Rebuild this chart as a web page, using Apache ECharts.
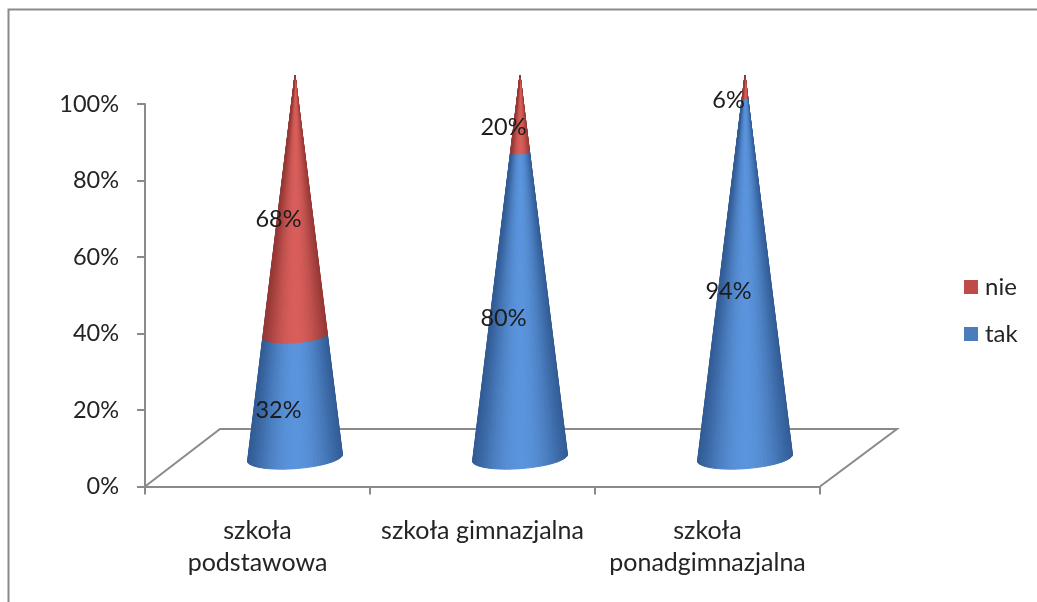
<!DOCTYPE html>
<html><head><meta charset="utf-8">
<style>html,body{margin:0;padding:0;background:#fff}#c{width:1037px;height:602px}</style>
<script src="https://cdn.jsdelivr.net/npm/echarts@6/dist/echarts.min.js"></script>
</head><body><div id="c"></div>
<script>
var categories = ['szkoła\npodstawowa', 'szkoła gimnazjalna', 'szkoła\nponadgimnazjalna'];
var tak = [32, 80, 94];
var nie = [68, 20, 6];
var yTicks = [0, 20, 40, 60, 80, 100];

var FONT = 'Lato, "Open Sans", sans-serif';
var GREY = '#8a8a8a';
var TEXT = '#242424';
var DEPTH = [75, -57.5];
var RADIUS_FRAC = 0.211, MINOR = 0.23, TILT = -0.07;
var LABEL_SHIFT = [21, -15];
var FACETS = 40;

function mix(a, b, k) {
  var c = a.map(function (v, i) { return Math.round(v + (b[i] - v) * k); });
  return 'rgb(' + c.join(',') + ')';
}
function shade(pal, t) {
  // t: 0..PI around the front of the cone
  return mix(pal[0], pal[1], Math.pow(Math.sin(t), 2.6));
}
var BLUE = [[50, 92, 150], [90, 148, 220]];
var RED = [[150, 56, 54], [216, 94, 90]];

function ringPoint(c, r, t) {
  return [c[0] + r * Math.cos(t), c[1] + r * MINOR * Math.sin(t) + TILT * r * Math.cos(t)];
}
function coneSegment(pal) {
  return function (params, api) {
    var i = api.value(0), low = api.value(1), high = api.value(2);
    var R = api.size([1, 0])[0] * RADIUS_FRAC;
    var a = api.coord([i, low]), b = api.coord([i, high]);
    var c0 = [a[0] + DEPTH[0] / 2, a[1] + DEPTH[1] / 2];
    var c1 = [b[0] + DEPTH[0] / 2, b[1] + DEPTH[1] / 2];
    var r0 = R * (1 - low / 100), r1 = R * (1 - high / 100);
    var kids = [];
    for (var n = 0; n < FACETS; n++) {
      var t0 = Math.PI * n / FACETS, t1 = Math.PI * (n + 1) / FACETS;
      var col = shade(pal, (t0 + t1) / 2);
      kids.push({
        type: 'polygon',
        shape: { points: [ringPoint(c0, r0, t0), ringPoint(c0, r0, t1), ringPoint(c1, r1, t1), ringPoint(c1, r1, t0)] },
        style: { fill: col, stroke: col, lineWidth: 1, lineJoin: 'round' }
      });
    }
    var mid = api.coord([i, (low + high) / 2]);
    kids.push({
      type: 'text', z2: 50,
      x: mid[0] + LABEL_SHIFT[0], y: mid[1] + LABEL_SHIFT[1],
      style: { text: (high - low) + '%', fill: '#1c1c1c', font: '23.5px ' + FONT, align: 'center', verticalAlign: 'middle' }
    });
    return { type: 'group', children: kids };
  };
}
function floor(params, api) {
  var s = params.coordSys;
  var l = s.x, r = s.x + s.width, y = s.y + s.height;
  return {
    type: 'polyline',
    shape: { points: [[l, y], [l + DEPTH[0], y + DEPTH[1]], [r + DEPTH[0] + 2, y + DEPTH[1]], [r, y]] },
    style: { fill: null, stroke: GREY, lineWidth: 2 }
  };
}
var takRows = tak.map(function (v, i) { return [i, 0, v]; });
var nieRows = nie.map(function (v, i) { return [i, tak[i], tak[i] + v]; });

var chart = echarts.init(document.getElementById('c'), null, { renderer: 'canvas' });
chart.setOption({
  animation: false,
  backgroundColor: '#fff',
  grid: { left: 145, right: 217, top: 104, bottom: 115.5, containLabel: false },
  graphic: [{
    type: 'polyline', silent: true,
    shape: { points: [[8.5, 602], [8.5, 9.5], [1037, 9.5]] },
    style: { fill: null, stroke: GREY, lineWidth: 2 }
  }],
  legend: {
    orient: 'vertical', left: 964, top: 275, padding: 0, itemWidth: 14, itemHeight: 14, itemGap: 23,
    icon: 'rect', data: ['nie', 'tak'],
    textStyle: { fontFamily: FONT, fontSize: 24, color: TEXT, padding: [0, 0, 0, 2] }
  },
  xAxis: {
    type: 'category', data: categories,
    axisLine: { lineStyle: { color: GREY, width: 2 } },
    axisTick: { show: true, alignWithLabel: false, length: 8, lineStyle: { color: GREY, width: 2 } },
    axisLabel: { fontFamily: FONT, fontSize: 25, color: TEXT, lineHeight: 32, margin: 28, interval: 0, verticalAlign: 'top' }
  },
  yAxis: {
    type: 'value', min: yTicks[0], max: yTicks[yTicks.length - 1], interval: yTicks[1] - yTicks[0],
    splitLine: { show: false },
    axisLine: { show: true, lineStyle: { color: GREY, width: 2 } },
    axisTick: { show: true, length: 8, lineStyle: { color: GREY, width: 2 } },
    axisLabel: { fontFamily: FONT, fontSize: 23.5, color: TEXT, margin: 26, padding: [3, 0, 0, 0], formatter: '{value}%' }
  },
  series: [
    { type: 'custom', name: 'floor', z: 1, clip: false, silent: true, data: [[0, 0, 0]], renderItem: floor, encode: { x: 0, y: 1 } },
    { type: 'custom', name: 'tak', z: 2, clip: false, itemStyle: { color: '#4A7EBB' }, data: takRows, renderItem: coneSegment(BLUE), encode: { x: 0, y: [1, 2] } },
    { type: 'custom', name: 'nie', z: 2, clip: false, itemStyle: { color: '#BE4B48' }, data: nieRows, renderItem: coneSegment(RED), encode: { x: 0, y: [1, 2] } }
  ]
});
</script></body></html>
